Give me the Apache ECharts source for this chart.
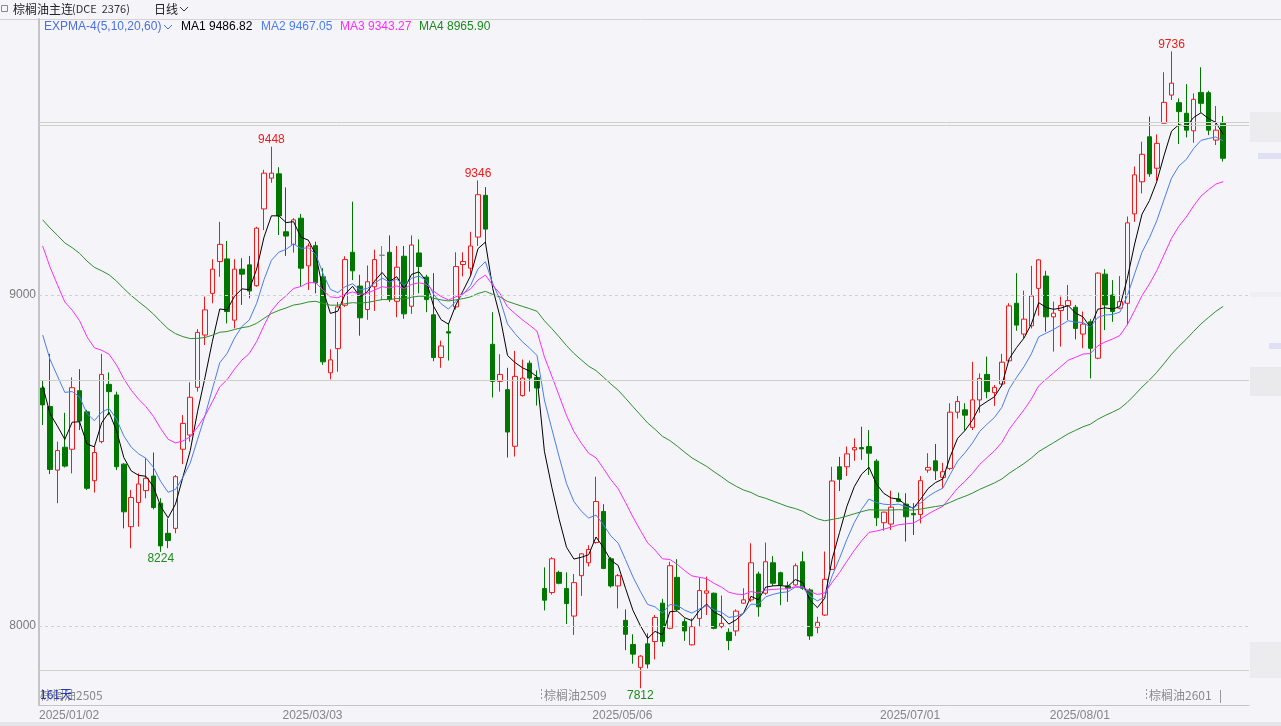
<!DOCTYPE html>
<html><head><meta charset="utf-8">
<script src="https://cdn.jsdelivr.net/npm/echarts@6/dist/echarts.min.js"></script>
<style>html,body{margin:0;padding:0;background:#f4f4f9;overflow:hidden}#c{width:1281px;height:726px}</style>
</head><body><div id="c"></div>
<script>
// ---- data (daily candles, 161 days) ----
const opens = [8719,8663,8471,8540,8534,8711,8647,8439,8557,8730,8698,8489,8300,8373,8409,8453,8371,8280,8295,8534,
8577,8721,8879,9005,9101,9109,8924,9078,9091,9028,9260,9353,9366,9191,9153,9232,9088,9149,9055,8765,
8838,8969,9129,9027,8956,9025,9120,9129,8981,9117,8966,9127,9054,8940,8811,8889,8964,9092,9081,9175,
9301,8851,8739,8714,8543,8696,8794,8751,8113,8101,8162,8113,8030,8152,8191,8252,8346,8203,8121,8017,
7944,7875,7946,7953,8069,7993,8147,8013,7943,8023,8099,8099,7998,7981,7985,8069,8079,8157,8099,8191,
8161,8121,8124,8194,8109,7996,8033,8171,8481,8481,8532,8539,8542,8498,8312,8308,8384,8368,8340,8337,
8471,8499,8449,8476,8646,8653,8600,8683,8760,8705,8731,8801,8975,8882,8907,9020,9057,8934,8953,8968,
8963,8882,8919,8809,9063,9000,8960,8975,9245,9342,9478,9383,9519,9604,9581,9549,9496,9612,9611,9468,9519];
const highs = [8743,8822,8557,8644,8751,8776,8653,8542,8822,8766,8708,8492,8411,8461,8507,8524,8386,8325,8456,8637,
8736,8897,8995,9108,9221,9163,9108,9111,9118,9206,9378,9448,9386,9325,9232,9245,9156,9161,9081,8836,
8979,9117,9282,9061,9089,9137,9148,9180,9148,9148,9180,9168,9061,9066,8862,8913,9129,9129,9191,9346,
9326,8948,8821,8780,8831,8805,8802,8772,8177,8208,8167,8162,8157,8220,8244,8451,8368,8208,8157,8050,
7975,7912,7978,8033,8082,8194,8202,8023,8023,8146,8149,8101,8092,7993,8050,8114,8250,8164,8252,8211,
8164,8134,8189,8225,8114,8028,8225,8481,8511,8542,8567,8602,8592,8504,8345,8409,8403,8401,8371,8453,
8522,8550,8493,8673,8695,8673,8798,8763,8814,8728,8822,8975,9066,9013,9088,9108,9073,8980,8995,9030,
8970,8950,8927,9069,9078,9045,9057,9237,9388,9463,9539,9485,9673,9736,9594,9637,9609,9688,9617,9571,9541];
const lows = [8607,8459,8371,8479,8461,8592,8411,8403,8552,8637,8471,8295,8235,8300,8386,8352,8224,8235,8280,8489,
8557,8708,8849,8975,9055,8914,8899,8970,8990,9025,9196,9339,9181,9118,9128,9025,9015,9005,8789,8745,
8768,8964,9045,8877,8925,8952,8984,8979,8933,8928,8943,9005,8948,8800,8780,8802,8956,9056,9056,9148,
9156,8690,8708,8509,8512,8693,8708,8666,8047,8095,8126,8006,7973,8091,8180,8249,8172,8116,8053,7927,
7886,7812,7872,7899,7938,7990,8045,7955,7941,7998,8033,7990,7993,7927,7970,8067,8073,8028,8094,8121,
8063,8073,8121,8109,7958,7978,8030,8169,8408,8453,8499,8502,8456,8302,8288,8290,8374,8255,8275,8310,
8463,8441,8416,8471,8627,8590,8592,8644,8688,8665,8723,8798,8892,8869,8899,8937,8889,8829,8844,8924,
8866,8839,8748,8806,8894,8919,8957,8909,9221,9307,9357,9345,9517,9589,9456,9476,9460,9551,9483,9453,9403];
const closes = [8668,8473,8530,8483,8720,8619,8416,8524,8760,8708,8481,8345,8388,8429,8446,8358,8242,8258,8451,8612,
8691,8887,8955,9078,9153,8950,9078,9063,9012,9202,9368,9368,9239,9178,9227,9081,9148,9037,8798,8804,
8964,9107,9073,8931,9040,9107,9120,8986,9084,8943,9151,9086,8986,8811,8846,8885,9086,9101,9148,9303,
9199,8739,8760,8586,8754,8749,8749,8719,8078,8203,8129,8068,8131,8218,8231,8376,8174,8121,8152,7975,
7915,7909,7885,8026,7953,8182,8050,7985,7998,8107,8106,7993,8008,7956,8045,8079,8191,8058,8194,8129,
8124,8114,8182,8114,7970,8011,8141,8438,8443,8520,8539,8535,8522,8327,8344,8359,8376,8330,8336,8439,
8479,8469,8466,8646,8678,8637,8683,8748,8708,8721,8797,8967,8909,8927,8997,9106,8934,8945,8968,8983,
8899,8912,8839,9066,8970,8950,8980,9218,9363,9425,9366,9458,9582,9640,9554,9498,9591,9579,9498,9498,9413];

// EXPMA periods and the line values read at the first visible candle
const expmaPeriods = [5, 10, 20, 60];
const expmaStart = [8725, 8879, 9148, 9227];
const expmaNames = ['MA1', 'MA2', 'MA3', 'MA4'];
const expmaLegend = ['MA1 9486.82', 'MA2 9467.05', 'MA3 9343.27', 'MA4 8965.90'];

// labelled extremes (candle indices)
const peakIdx = [31, 59, 153];
const troughIdx = [16, 81];

// x-axis tick labels (candle index -> date)
const tickIdx = [0, 33, 75, 114, 137];
const tickText = ['2025/01/02', '2025/03/03', '2025/05/06', '2025/07/01', '2025/08/01'];

// horizontal reference levels
const gridLevels = [9000, 8000];
const refLevels = [9521, 9513, 8743, 7867];

// ---- styling ----
const BG = '#f4f4f9';
const UP = '#f01a1a', DOWN = '#007800';
const lineColors = ['#000000', '#4a7ef0', '#ff2cff', '#2f8f2f'];
const NSLOT = 164;

function expma(src, n, start) {
  const a = 2 / (n + 1);
  const out = [];
  let e = start;
  src.forEach((c, i) => { if (i > 0) e = a * c + (1 - a) * e; out.push(+e.toFixed(2)); });
  return out;
}

const candleData = opens.map((o, i) => [o, closes[i], lows[i], highs[i]]);
const slotCats = Array.from({length: NSLOT}, (_, i) => String(i));
const edgeCats = Array.from({length: NSLOT + 1}, (_, i) => String(i));

const markPts = [];
peakIdx.forEach(i => markPts.push({coord: [i, highs[i]], value: highs[i],
  label: {position: 'top', distance: 1, color: '#f01a1a'}}));
troughIdx.forEach(i => markPts.push({coord: [i, lows[i]], value: lows[i],
  label: {position: 'bottom', distance: 1, color: '#1c8a1c'}}));

const mlData = [];
gridLevels.forEach(v => mlData.push({yAxis: v,
  lineStyle: {color: '#cfcfd4', type: [3, 3], width: 1},
  label: {show: true, position: 'start', distance: 3, formatter: String(v), color: '#7a7a7a', fontSize: 12, fontFamily: 'Liberation Sans'}}));
refLevels.forEach(v => mlData.push({yAxis: v,
  lineStyle: {color: '#d0d0c8', type: 'solid', width: 1}, label: {show: false}}));

const series = [{
  type: 'candlestick', data: candleData, barWidth: 5, z: 2,
  itemStyle: {color: BG, color0: DOWN, borderColor: UP, borderColor0: DOWN, borderColorDoji: '#808080', borderWidth: 1},
  markLine: {silent: true, symbol: 'none', animation: false, data: mlData},
  markPoint: {symbol: 'circle', symbolSize: 0, animation: false,
    label: {show: true, formatter: '{c}', fontSize: 12, fontFamily: 'Liberation Sans'}, data: markPts}
}];
expmaPeriods.forEach((n, j) => series.push({
  type: 'line', name: expmaNames[j], data: expma(closes, n, expmaStart[j]),
  showSymbol: false, symbol: 'none', z: 3, lineStyle: {color: lineColors[j], width: 1}
}));

const txt = (x, y, s, o) => Object.assign({type: 'text', x, y,
  style: Object.assign({text: s, fill: '#222', font: '12px "Liberation Sans", sans-serif', textVerticalAlign: 'middle'}, o || {})});

const graphic = [
  {type: 'line', shape: {x1: 0, y1: 19.5, x2: 1281, y2: 19.5}, style: {stroke: '#d2d2d8', lineWidth: 1}},
  {type: 'rect', shape: {x: 0, y: 722, width: 1281, height: 4}, style: {fill: '#e6e6ea'}},
  {type: 'rect', shape: {x: 1.5, y: 5.5, width: 6, height: 6}, style: {fill: 'none', stroke: '#8a8a8a', lineWidth: 1}},
  txt(13, 9, '棕榈油主连', {font: '12px "Noto Sans CJK SC"'}),
  txt(72, 9, '(DCE  2376)', {font: '11px "Noto Sans CJK SC"', fill: '#333'}),
  txt(154, 9, '日线', {font: '12px "Noto Sans CJK SC"'}),
  {type: 'polyline', shape: {points: [[180, 7], [184, 11], [188, 7]]}, style: {stroke: '#333', lineWidth: 1, fill: 'none'}},
  txt(44, 27, 'EXPMA-4(5,10,20,60)', {fill: '#4a6fe0'}),
  {type: 'polyline', shape: {points: [[164, 25], [168, 29], [172, 25]]}, style: {stroke: '#4a6fe0', lineWidth: 1, fill: 'none'}},
  txt(181, 27, expmaLegend[0], {fill: '#000'}),
  txt(261, 27, expmaLegend[1], {fill: '#4a7ef0'}),
  txt(340, 27, expmaLegend[2], {fill: '#ff2cff'}),
  txt(419, 27, expmaLegend[3], {fill: '#1c8a1c'}),
  txt(40, 695, '棕榈油2505', {font: '12px "Noto Sans CJK SC"', fill: '#8a8a8a'}),
  txt(40, 694, '161天', {font: '12px "Noto Sans CJK SC"', fill: '#2438b8'}),
  {type: 'line', shape: {x1: 541.5, y1: 689, x2: 541.5, y2: 701}, style: {stroke: '#999', lineWidth: 1, lineDash: [2, 2]}},
  txt(544, 695, '棕榈油2509', {font: '12px "Noto Sans CJK SC"', fill: '#8a8a8a'}),
  {type: 'line', shape: {x1: 1146.5, y1: 689, x2: 1146.5, y2: 701}, style: {stroke: '#999', lineWidth: 1, lineDash: [2, 2]}},
  txt(1149, 695, '棕榈油2601', {font: '12px "Noto Sans CJK SC"', fill: '#8a8a8a'}),
  {type: 'line', shape: {x1: 1220.5, y1: 690, x2: 1220.5, y2: 703}, style: {stroke: '#999', lineWidth: 1}},
  // blurred right-side tags (soft)
  {type: 'rect', shape: {x: 1250, y: 112, width: 31, height: 30}, style: {fill: '#ececef'}},
  {type: 'rect', shape: {x: 1258, y: 153, width: 23, height: 6}, style: {fill: '#e0e0f4'}},
  {type: 'rect', shape: {x: 1250, y: 292, width: 31, height: 5}, style: {fill: '#efeff2'}},
  {type: 'rect', shape: {x: 1269, y: 343, width: 12, height: 6}, style: {fill: '#e0e0f4'}},
  {type: 'rect', shape: {x: 1250, y: 367, width: 31, height: 29}, style: {fill: '#eaeaed'}},
  {type: 'rect', shape: {x: 1250, y: 642, width: 31, height: 36}, style: {fill: '#ececef'}}
];

const option = {
  animation: false,
  backgroundColor: BG,
  grid: {left: 39, right: 32, top: 19, bottom: 21, containLabel: false},
  xAxis: [{
    type: 'category', data: slotCats, boundaryGap: true, position: 'bottom',
    axisLine: {show: true, onZero: false, lineStyle: {color: '#c4c4c8', width: 1}},
    axisTick: {show: false}, axisLabel: {show: false}, splitLine: {show: false}
  }, {
    type: 'category', data: edgeCats, boundaryGap: false, position: 'bottom', gridIndex: 0,
    axisLine: {show: false, onZero: false}, axisTick: {show: false}, splitLine: {show: false},
    axisLabel: {show: true, margin: 5, align: 'left', color: '#858585', fontSize: 12, fontFamily: 'Liberation Sans',
      interval: (i) => tickIdx.indexOf(i) >= 0,
      formatter: (v, i) => { const k = tickIdx.indexOf(+v); return k >= 0 ? tickText[k] : ''; }}
  }],
  yAxis: {
    type: 'value', min: 7761.3, max: 9833.8, position: 'left',
    axisLine: {show: true, lineStyle: {color: '#c4c4c8', width: 2}},
    axisTick: {show: false}, axisLabel: {show: false}, splitLine: {show: false}
  },
  series,
  graphic
};

const chart = echarts.init(document.getElementById('c'), null, {renderer: 'canvas', width: 1281, height: 726});
chart.setOption(option);
</script>
</body></html>
